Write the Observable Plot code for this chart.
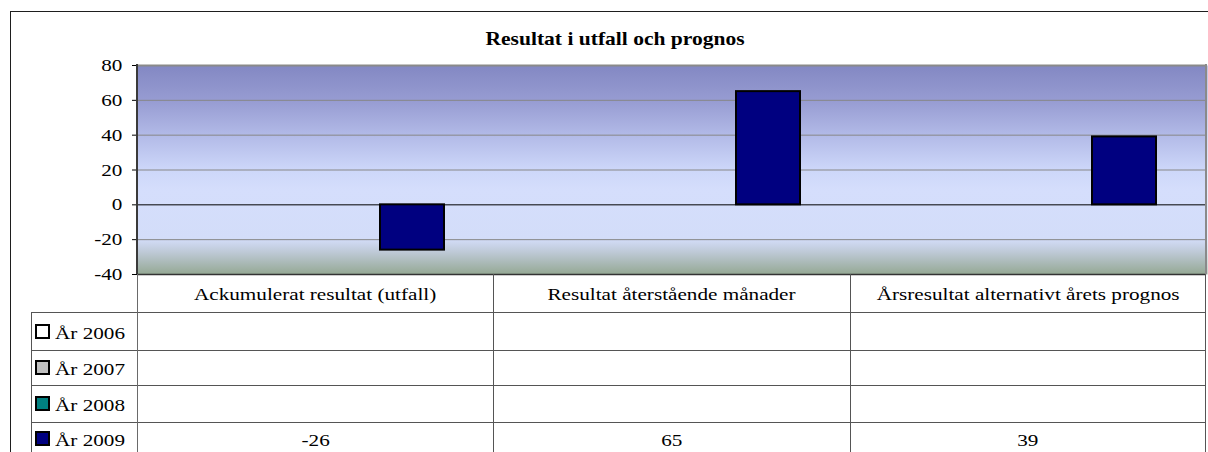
<!DOCTYPE html>
<html><head><meta charset="utf-8">
<script src="https://cdn.jsdelivr.net/npm/d3@7"></script>
<script src="https://cdn.jsdelivr.net/npm/@observablehq/plot@0.6"></script>
<style>
html,body{margin:0;padding:0;background:#fff;overflow:hidden;width:1208px;height:452px;}
#wrap{position:relative;width:1208px;height:452px;overflow:hidden;font-family:"Liberation Serif","Times New Roman",serif;color:#000;}
.t{position:absolute;white-space:nowrap;line-height:1;font-size:17.5px;}
.sx{display:inline-block;transform:scaleX(1.21);}
.ln{position:absolute;background:#555;}
svg{position:absolute;left:0;top:0;}
</style></head><body><div id="wrap"></div>
<script>
// ---- data ----
const categories = ["Ackumulerat resultat (utfall)", "Resultat återstående månader", "Årsresultat alternativt årets prognos"];
const series = ["År 2006", "År 2007", "År 2008", "År 2009"];
const seriesColors = ["#ffffff", "#c0c0c0", "#008080", "#000080"];
const values2006 = [null, null, null];
const values2007 = [null, null, null];
const values2008 = [null, null, null];
const values2009 = [-26, 65, 39];
const yTicks = [-40, -20, 0, 20, 40, 60, 80];
const titleText = "Resultat i utfall och prognos";

// ---- layout ----
const W = 1208, H = 452, mL = 137, mR = 2, mT = 65, plotBottom = 274;
const headerBaseline = 301;
const rowBaselines = [340, 375.5, 411.7, 447];
const rowLines = [312, 349.7, 385.3, 421.7];
const tableLeft = 31;
const FS = 17.5, ASC = 0.8375;

const allValues = [values2006, values2007, values2008, values2009];
const rows = [];
series.forEach((s, i) => categories.forEach((c, j) => rows.push({series: s, category: c, value: allValues[i][j]})));

const wrap = document.getElementById("wrap");

// outer chart-area border (left and top edges visible)
const outer = document.createElement("div");
outer.style.cssText = "position:absolute;left:10px;top:11px;width:1190px;height:441px;border-left:1px solid #1e1e1e;border-top:1px solid #1e1e1e;box-sizing:border-box;";
outer.style.width = (W - 10) + "px";
wrap.appendChild(outer);

const chart = Plot.plot({
  width: W, height: H,
  marginTop: mT, marginBottom: H - plotBottom, marginLeft: mL, marginRight: mR,
  style: {fontFamily: "Liberation Serif, Times New Roman, serif", fontSize: FS + "px", background: "transparent", color: "#000", overflow: "visible"},
  facet: {data: rows, x: "category"},
  fx: {domain: categories, padding: 0, axis: null, label: null},
  x: {domain: series, paddingInner: 0, paddingOuter: 0.75, axis: null, label: null},
  y: {domain: [-40, 80], ticks: yTicks, tickSize: 6, tickPadding: 10, label: null, tickFormat: d => String(d)},
  color: {domain: series, range: seriesColors},
  marks: [
    Plot.frame({fill: "url(#plotbg)", stroke: "none", insetLeft: -1, insetRight: -1}),
    Plot.ruleY(yTicks.filter(v => v !== 0 && v !== -40 && v !== 80), {stroke: "#878787", strokeWidth: 1}),
    Plot.ruleY([80], {stroke: "#8a8a8a", strokeWidth: 2}),
    Plot.ruleY([-40], {stroke: "#333", strokeWidth: 1.5}),
    Plot.ruleY([0], {stroke: "#000", strokeWidth: 1}),
    Plot.barY(rows, {filter: d => d.value != null, x: "series", y: "value", fill: "series", stroke: "#000", strokeWidth: 2})
  ]
});
wrap.appendChild(chart);

// gradient background of plot area
const defs = d3.select(chart).insert("defs", ":first-child");
const grad = defs.append("linearGradient").attr("id", "plotbg").attr("x1", 0).attr("y1", 0).attr("x2", 0).attr("y2", 1);
[[0, "#8388c3"], [0.17, "#979cd2"], [0.34, "#b3bbe8"], [0.5, "#cdd7f9"], [0.6, "#d5defc"], [0.83, "#d3ddf9"], [0.89, "#bfcad8"], [1, "#94a893"]]
  .forEach(([o, c]) => grad.append("stop").attr("offset", o).attr("stop-color", c));

// widen tick labels horizontally (reference font is stretched)
d3.select(chart).selectAll("text").each(function() {
  const b = this.getBBox();
  const cx = b.x + b.width;
  const tr = this.getAttribute("transform") || "";
  this.setAttribute("transform", `${tr} translate(${cx},0) scale(1.21,1) translate(${-cx},0)`);
});

// plot-area borders: left axis line (dark), right edge (gray)
function line(x, y, w, h, color) {
  const d = document.createElement("div");
  d.className = "ln";
  d.style.left = x + "px"; d.style.top = y + "px"; d.style.width = w + "px"; d.style.height = h + "px";
  if (color) d.style.background = color;
  wrap.appendChild(d);
}
line(mL - 1, mT - 1, 2, plotBottom - mT + 1, "#3a3a3a");
line(W - mR - 1, mT - 1, 2, plotBottom - mT + 1, "#8a8a8a");

// ---- data table ----
const colW = (W - mL - mR) / categories.length;
const colEdges = categories.map((c, i) => mL + i * colW).concat([W - mR]);
rowLines.forEach(y => line(tableLeft, Math.round(y), W - mR - tableLeft, 1));
line(tableLeft, rowLines[0], 1, H - rowLines[0]);
colEdges.forEach((x, i) => line(Math.round(x) - (i === colEdges.length - 1 ? 1 : 0), plotBottom, 1, H - plotBottom, i === 0 ? "#6a6a6a" : "#555"));

function text(str, x, baseline, align, opts = {}) {
  const d = document.createElement("div");
  d.className = "t";
  const fs = opts.fs || FS;
  d.style.fontSize = fs + "px";
  if (opts.bold) d.style.fontWeight = "bold";
  d.style.top = (baseline - ASC * fs) + "px";
  const s = document.createElement("span");
  s.className = "sx";
  s.textContent = str;
  if (align === "center") {
    d.style.left = (x - 400) + "px"; d.style.width = "800px"; d.style.textAlign = "center";
    s.style.transformOrigin = "center";
  } else {
    d.style.left = x + "px";
    s.style.transformOrigin = "left";
  }
  d.appendChild(s);
  wrap.appendChild(d);
}

text(titleText, 615, 46, "center", {bold: true, fs: 17.8});

categories.forEach((c, i) => text(c, (colEdges[i] + colEdges[i + 1]) / 2, headerBaseline, "center"));

series.forEach((s, r) => {
  const key = document.createElement("div");
  key.style.cssText = `position:absolute;left:35px;top:${rowBaselines[r] - 16}px;width:15px;height:15px;box-sizing:border-box;border:2px solid #000;background:${seriesColors[r]};`;
  wrap.appendChild(key);
  text(s, 55, rowBaselines[r], "left");
  allValues[r].forEach((v, j) => {
    if (v != null) text(String(v), (colEdges[j] + colEdges[j + 1]) / 2, rowBaselines[r], "center");
  });
});
</script>
</body></html>
